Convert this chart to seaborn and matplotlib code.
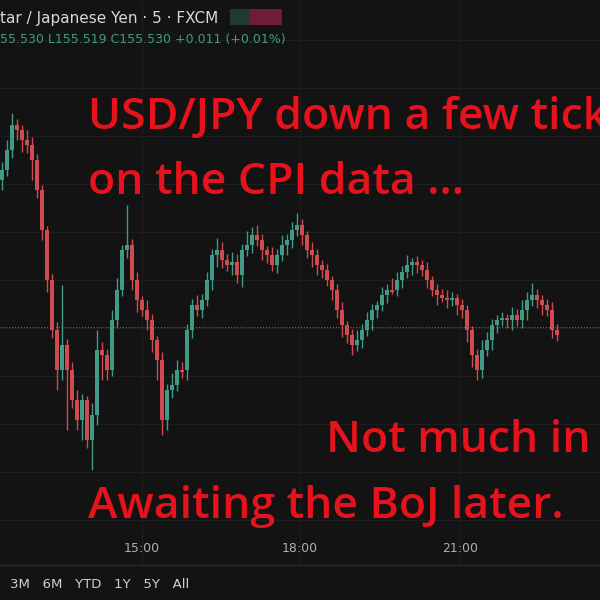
import matplotlib
matplotlib.use("Agg")
import matplotlib.pyplot as plt
import seaborn as sns
import numpy as np

# close levels (screen level units, larger = lower price), one per 5-min candle
closes = [170,150,125,130,140,145,160,190,230,280,330,370,345,370,400,420,400,440,415,350,
          355,370,320,290,250,245,280,300,310,320,340,360,420,390,385,370,370,330,305,310,
          300,280,255,250,260,265,262,275,250,245,235,240,250,255,265,255,245,240,230,225,
          235,250,255,265,270,280,290,310,325,335,345,340,330,320,310,305,295,290,290,280,
          272,265,262,265,270,280,290,295,298,300,298,305,310,330,355,370,350,340,325,320,
          318,320,315,320,310,300,295,300,305,310,330,335]
opens = [180] + closes[:-1]
wick_up = [8,10,12,6,5,10,8,6,5,4,6,8,60,6,8,10,6,4,12,20,
           8,6,10,12,5,40,6,8,4,10,6,4,8,6,12,10,8,6,6,10,
           6,8,6,12,8,6,10,8,6,14,8,10,6,4,8,6,10,6,8,12,
           6,4,8,6,5,6,4,6,8,4,6,10,6,8,6,4,8,6,12,8,
           6,10,4,6,5,8,4,6,6,8,6,4,6,5,4,6,10,8,6,5,
           6,4,8,6,10,8,12,6,5,6,8,6]
wick_dn = [10,6,8,10,12,8,20,8,10,12,8,20,10,60,8,10,20,8,30,10,
           25,10,6,8,6,8,10,12,6,10,12,20,15,10,8,6,8,10,8,6,
           8,6,10,12,8,6,10,8,12,6,8,6,10,8,6,8,6,10,8,6,
           10,8,12,10,8,6,10,8,12,8,10,6,8,6,10,8,6,8,4,6,
           8,6,10,8,6,8,6,10,4,8,6,10,8,12,12,10,8,6,10,8,
           6,8,10,6,8,10,6,8,10,6,8,6]
time_labels = ["15:00", "18:00", "21:00"]
time_x = [142, 300, 460]

sns.set_style("dark")
bg = "#131313"
fig = plt.figure(figsize=(6, 6), dpi=100, facecolor=bg)
ax = fig.add_axes([0, 0, 1, 1])
ax.set_facecolor(bg)
n = len(closes)
idx = np.arange(n)
o = np.array(opens, float); c = np.array(closes, float)
top = np.minimum(o, c); bot = np.maximum(o, c)
hi = top - np.array(wick_up[:n]); lo = bot + np.array(wick_dn[:n])
up = c < o  # price rose
cols = np.where(up, "#3f9b86", "#d04a52")
for yy in range(40, 560, 48):
    ax.axhline(yy, color="#1e1e1e", lw=0.8, zorder=0)
for xx in time_x:
    ax.axvline((xx / 5) - 0.4, color="#1e1e1e", lw=0.8, zorder=0)
ax.vlines(idx, hi, lo, colors=cols, lw=1, zorder=2)
ax.bar(idx, np.maximum(bot - top, 1.5), bottom=top, width=0.7, color=cols,
       edgecolor=cols, linewidth=0, zorder=3)
ax.axhline(327, color="#777777", lw=0.7, ls=(0, (1, 2)), zorder=1)
ax.set_xlim(-0.4, 119.6)
ax.set_ylim(600, 0)
ax.axis("off")
ax.add_patch(plt.Rectangle((-0.4, 565), 120, 35, color=bg, zorder=5))
ax.axhline(565, color="#2a2a2a", lw=1, zorder=6)

fig.text(0.0, 1 - 18/600, "tar / Japanese Yen · 5 · FXCM", color="#d8d8d8", fontsize=11, va="center")
fig.text(0.0, 1 - 40/600, "55.530 L155.519 C155.530 +0.011 (+0.01%)", color="#3f9b86", fontsize=9, va="center")
ax.add_patch(plt.Rectangle((45.5, 9), 9, 16, color="#1f3a34", zorder=6, linewidth=0))
ax.add_patch(plt.Rectangle((49.5, 9), 6.5, 16, color="#6e1c38", zorder=6, linewidth=0))
red = "#e8121c"
kw = dict(color=red, fontsize=32, va="center", ha="left", family="Open Sans", weight="semibold")
fig.text(88/600, 1 - 118/600, "USD/JPY down a few ticks", **kw)
fig.text(88/600, 1 - 183/600, "on the CPI data ...", **kw)
fig.text(326/600, 1 - 440/600, "Not much in it", **kw)
fig.text(88/600, 1 - 507/600, "Awaiting the BoJ later.", **kw)
for lab, xx in zip(time_labels, time_x):
    fig.text(xx/600, 1 - 548/600, lab, color="#b0b0b0", fontsize=9, ha="center", va="center")
fig.text(10/600, 1 - 584/600, "3M   6M   YTD   1Y   5Y   All", color="#d0d0d0", fontsize=9.5, va="center")
fig.savefig("out.png", dpi=100, facecolor=bg)
